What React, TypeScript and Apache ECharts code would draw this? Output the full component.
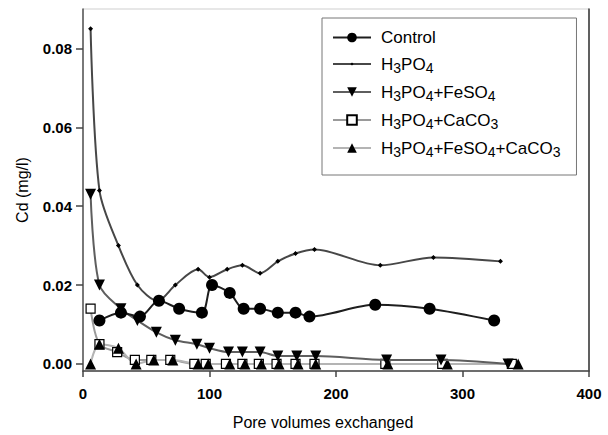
import React, { useEffect, useRef } from "react";
import * as echarts from "echarts";

const controlX = [13, 30, 45, 60, 76, 94, 102, 116, 127, 140, 154, 168, 179, 231, 274, 325];
const controlY = [0.011, 0.013, 0.012, 0.016, 0.014, 0.013, 0.02, 0.018, 0.014, 0.014, 0.013, 0.013, 0.012, 0.015, 0.014, 0.011];

const h3po4X = [6, 13, 28, 43, 59, 73, 91, 100, 114, 126, 140, 154, 168, 183, 235, 277, 330];
const h3po4Y = [0.085, 0.044, 0.03, 0.02, 0.016, 0.02, 0.024, 0.022, 0.024, 0.025, 0.023, 0.026, 0.028, 0.029, 0.025, 0.027, 0.026];

const feso4X = [6, 13, 30, 43, 58, 73, 90, 100, 115, 126, 140, 154, 169, 184, 240, 283, 336];
const feso4Y = [0.043, 0.02, 0.014, 0.011, 0.008, 0.006, 0.005, 0.004, 0.003, 0.003, 0.003, 0.002, 0.002, 0.002, 0.001, 0.001, 0.0];

const caco3X = [6, 13, 27, 41, 54, 69, 88, 97, 113, 126, 139, 153, 168, 183, 239, 284, 339];
const caco3Y = [0.014, 0.005, 0.003, 0.001, 0.001, 0.001, 0, 0, 0, 0, 0, 0, 0, 0, 0, 0, 0];

const bothX = [6, 13, 28, 42, 56, 71, 91, 99, 116, 128, 141, 155, 170, 184, 241, 288, 344];
const bothY = [0.0, 0.005, 0.004, 0.0, 0.001, 0.001, 0, 0, 0, 0, 0, 0, 0, 0, 0, 0, 0];

const yTicks = [0, 0.02, 0.04, 0.06, 0.08];
const seriesNames = ["Control", "H3PO4", "H3PO4+FeSO4", "H3PO4+CaCO3", "H3PO4+FeSO4+CaCO3"];

const zip = (xs: number[], ys: number[]) => xs.map((x, i) => [x, ys[i]]);

const FONT = "'Liberation Sans', Arial, sans-serif";
// small diamond inside a larger (invisible) box so the legend icon stays small
const SMALL_DIAMOND = "path://M0 0ZM12 12ZM4 6L6 4L8 6L6 8Z";

function richName(name: string) {
  return name.replace(/(\d)/g, "{s|$1}");
}

export default function App() {
  const ref = useRef<HTMLDivElement>(null);
  useEffect(() => {
    document.body.style.margin = "0";
    const chart = echarts.init(ref.current!, undefined, { renderer: "svg" });
    const baseLine = (color: string) => ({ color, width: 2 });
    chart.setOption({
      animation: false,
      backgroundColor: "#fff",
      textStyle: { fontFamily: FONT },
      grid: {
        left: 83,
        right: 19,
        top: 9,
        bottom: 62,
        show: true,
        borderColor: "#cfcfcf",
        borderWidth: 1,
        backgroundColor: "transparent",
      },
      legend: {
        orient: "vertical",
        left: 322,
        top: 18,
        padding: [10, 16, 16, 10],
        itemWidth: 38,
        itemHeight: 12,
        itemGap: 6,
        borderColor: "#777",
        borderWidth: 1,
        backgroundColor: "#fff",
        data: seriesNames,
        formatter: (n: string) => richName(n),
        textStyle: {
          fontFamily: FONT,
          fontSize: 17,
          lineHeight: 19,
          color: "#000",
          padding: [0, 0, 0, 5],
          rich: {
            s: { fontSize: 14, lineHeight: 11, fontFamily: FONT, color: "#000", padding: [8, 0, 0, 0] },
          },
        },
      },
      xAxis: {
        type: "value",
        min: 0,
        max: 400,
        interval: 100,
        name: "Pore volumes exchanged",
        nameLocation: "middle",
        nameGap: 43,
        nameTextStyle: { fontSize: 16, color: "#000", fontFamily: FONT, padding: [0, 26, 0, 0] },
        splitLine: { show: false },
        axisLine: { show: true, onZero: false, lineStyle: { color: "#444", width: 1.5 } },
        axisTick: { show: true, length: 6, lineStyle: { color: "#444", width: 1.5 } },
        axisLabel: { fontSize: 15, fontWeight: "bold", color: "#000", margin: 15, fontFamily: FONT },
      },
      yAxis: [
        {
          type: "value",
          min: -0.0018,
          max: 0.09,
          name: "Cd (mg/l)",
          nameLocation: "middle",
          nameRotate: 90,
          nameGap: 53,
          nameTextStyle: { fontSize: 16, color: "#000", fontFamily: FONT },
          splitLine: { show: false },
          axisLine: { show: true, lineStyle: { color: "#555", width: 1.5 } },
          axisTick: { show: true, length: 7, customValues: yTicks, lineStyle: { color: "#444", width: 1.5 } },
          axisLabel: {
            fontSize: 15,
            fontWeight: "bold",
            color: "#000",
            margin: 11,
            fontFamily: FONT,
            customValues: yTicks,
            formatter: (v: number) => v.toFixed(2),
          },
        },
        {
          type: "value",
          min: -0.0018,
          max: 0.09,
          position: "right",
          splitLine: { show: false },
          axisLine: { show: true, lineStyle: { color: "#333", width: 1.5 } },
          axisTick: { show: false },
          axisLabel: { show: false },
        },
      ],
      series: [
        {
          name: "Control",
          type: "line",
          smooth: 0.3,
          data: zip(controlX, controlY),
          symbol: "circle",
          symbolSize: 12,
          itemStyle: { color: "#000" },
          lineStyle: baseLine("#1e1e1e"),
          z: 6,
        },
        {
          name: "H3PO4",
          type: "line",
          smooth: 0.3,
          data: zip(h3po4X, h3po4Y),
          symbol: SMALL_DIAMOND,
          symbolSize: 15,
          itemStyle: { color: "#000" },
          lineStyle: baseLine("#474747"),
          z: 5,
        },
        {
          name: "H3PO4+FeSO4",
          type: "line",
          smooth: 0.3,
          data: zip(feso4X, feso4Y),
          symbol: "triangle",
          symbolRotate: 180,
          symbolSize: 11,
          itemStyle: { color: "#000" },
          lineStyle: baseLine("#5e5e5e"),
          z: 4,
        },
        {
          name: "H3PO4+CaCO3",
          type: "line",
          smooth: 0.3,
          data: zip(caco3X, caco3Y),
          symbol: "rect",
          symbolSize: 9,
          itemStyle: { color: "#fff", borderColor: "#000", borderWidth: 1.2 },
          lineStyle: baseLine("#9a9a9a"),
          z: 3,
        },
        {
          name: "H3PO4+FeSO4+CaCO3",
          type: "line",
          smooth: 0.3,
          data: zip(bothX, bothY),
          symbol: "triangle",
          symbolSize: 11,
          itemStyle: { color: "#000" },
          lineStyle: baseLine("#b4b4b4"),
          z: 3,
        },
      ],
    });
    return () => chart.dispose();
  }, []);
  return <div ref={ref} style={{ width: 608, height: 435 }} />;
}
